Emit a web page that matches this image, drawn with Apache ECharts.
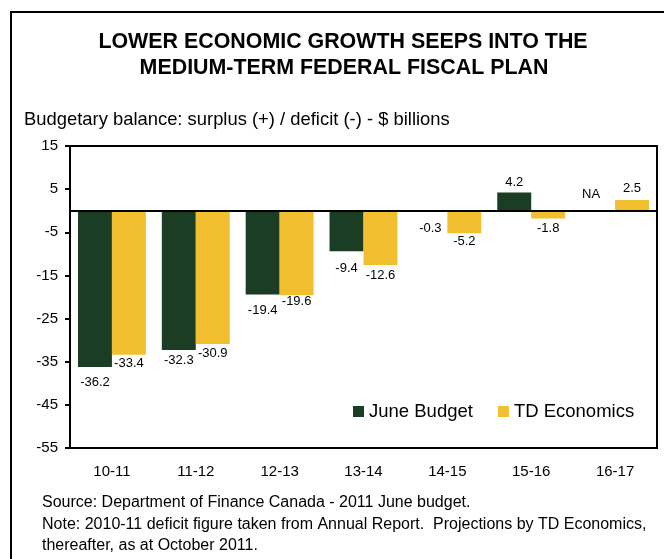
<!DOCTYPE html>
<html>
<head>
<meta charset="utf-8">
<script src="https://cdn.jsdelivr.net/npm/echarts@6/dist/echarts.min.js"></script>
<style>
  html, body { margin: 0; padding: 0; background: #fff; }
  #chart { width: 664px; height: 559px; }
</style>
</head>
<body>
<div id="chart"></div>
<script>
// ---- data ----
const categories = ['10-11', '11-12', '12-13', '13-14', '14-15', '15-16', '16-17'];
const juneBudget = [-36.2, -32.3, -19.4, -9.4, -0.3, 4.2, null];   // null = NA
const tdEconomics = [-33.4, -30.9, -19.6, -12.6, -5.2, -1.8, 2.5];
const yTicks = { min: -55, max: 15, interval: 10 };

// label placement (layout only)
const juneLabelDist = [9, 4, 10, 11, 10, 4, 10];
const tdLabelDist = [2, 3, 0, 4, 1.5, 3.5, 5];

const FONT = '"Liberation Sans", Arial, sans-serif';
const GREEN = '#1a3d23';
const YELLOW = '#f2bf30';

function buildData(values, dists) {
  return values.map(function (v, i) {
    if (v === null) {
      return {
        value: 0,
        itemStyle: { color: 'rgba(0,0,0,0)' },
        label: { show: true, position: 'top', distance: dists[i], offset: [-7, 0], formatter: 'NA', color: '#000', opacity: 1 }
      };
    }
    return {
      value: v,
      label: { position: v < 0 ? 'bottom' : 'top', distance: dists[i] }
    };
  });
}

const chart = echarts.init(document.getElementById('chart'), null, { renderer: 'canvas' });
const option = {
  animation: false,
  backgroundColor: '#fff',
  textStyle: { fontFamily: FONT },
  grid: {
    left: 70, right: 7, top: 146, bottom: 111,
    show: true, borderColor: '#000', borderWidth: 2, backgroundColor: 'transparent'
  },
  legend: {
    left: 353, top: 402, padding: 0,
    icon: 'rect', itemWidth: 11, itemHeight: 11, itemGap: 25,
    textStyle: { fontSize: 18.5, color: '#000', fontFamily: FONT },
    data: ['June Budget', 'TD Economics']
  },
  xAxis: {
    type: 'category',
    data: categories,
    axisLine: { onZero: false, lineStyle: { color: '#000', width: 2 } },
    axisTick: { show: false },
    axisLabel: { fontSize: 15, color: '#000', margin: 16, fontFamily: FONT }
  },
  yAxis: {
    type: 'value',
    min: yTicks.min, max: yTicks.max, interval: yTicks.interval,
    axisLine: { show: true, lineStyle: { color: '#000', width: 2 } },
    axisTick: { show: true, length: 5, lineStyle: { color: '#000', width: 2 } },
    axisLabel: { fontSize: 15, color: '#000', margin: 12, fontFamily: FONT },
    splitLine: { show: false }
  },
  series: [
    {
      name: 'June Budget',
      type: 'bar',
      barGap: '0%',
      barCategoryGap: '19%',
      itemStyle: { color: GREEN },
      label: { show: true, fontSize: 13, color: '#000', fontFamily: FONT },
      data: buildData(juneBudget, juneLabelDist),
      markLine: {
        silent: true,
        symbol: 'none',
        label: { show: false },
        lineStyle: { color: '#000', width: 2, type: 'solid' },
        data: [{ yAxis: 0 }]
      }
    },
    {
      name: 'TD Economics',
      type: 'bar',
      barGap: '0%',
      barCategoryGap: '19%',
      itemStyle: { color: YELLOW },
      label: { show: true, fontSize: 13, color: '#000', fontFamily: FONT },
      data: buildData(tdEconomics, tdLabelDist)
    }
  ],
  graphic: [
    {
      type: 'rect', silent: true,
      shape: { x: 11, y: 12, width: 720, height: 620 },
      style: { fill: null, stroke: '#000', lineWidth: 2 }
    },
    {
      type: 'text', x: 343, y: 42,
      style: { text: 'LOWER ECONOMIC GROWTH SEEPS INTO THE', font: 'bold 21.4px ' + FONT, fill: '#000', textAlign: 'center', textVerticalAlign: 'middle' }
    },
    {
      type: 'text', x: 344, y: 68,
      style: { text: 'MEDIUM-TERM FEDERAL FISCAL PLAN', font: 'bold 21.4px ' + FONT, fill: '#000', textAlign: 'center', textVerticalAlign: 'middle' }
    },
    {
      type: 'text', x: 24, y: 120,
      style: { text: 'Budgetary balance: surplus (+) / deficit (-) - $ billions', font: '18.4px ' + FONT, fill: '#000', textAlign: 'left', textVerticalAlign: 'middle' }
    },
    {
      type: 'text', x: 42, y: 503,
      style: { text: 'Source: Department of Finance Canada - 2011 June budget.', font: '16px ' + FONT, fill: '#000', textAlign: 'left', textVerticalAlign: 'middle' }
    },
    {
      type: 'text', x: 42, y: 525,
      style: { text: 'Note: 2010-11 deficit figure taken from Annual Report.  Projections by TD Economics,', font: '16px ' + FONT, fill: '#000', textAlign: 'left', textVerticalAlign: 'middle' }
    },
    {
      type: 'text', x: 42, y: 546,
      style: { text: 'thereafter, as at October 2011.', font: '16px ' + FONT, fill: '#000', textAlign: 'left', textVerticalAlign: 'middle' }
    }
  ]
};
chart.setOption(option);
</script>
</body>
</html>
